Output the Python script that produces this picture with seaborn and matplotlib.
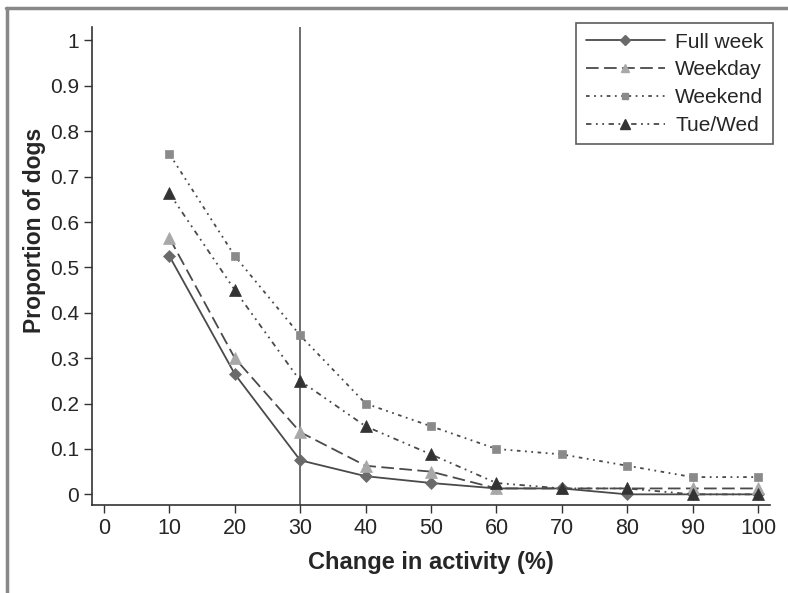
import pandas as pd
import seaborn as sns
import matplotlib.pyplot as plt
from matplotlib.lines import Line2D

# data
change = [10, 20, 30, 40, 50, 60, 70, 80, 90, 100]
full_week = [0.525, 0.265, 0.075, 0.04, 0.025, 0.013, 0.013, 0.0, 0.0, 0.0]
weekday = [0.565, 0.30, 0.137, 0.063, 0.05, 0.013, 0.013, 0.013, 0.013, 0.013]
weekend = [0.75, 0.525, 0.35, 0.2, 0.15, 0.1, 0.088, 0.063, 0.038, 0.038]
tue_wed = [0.663, 0.45, 0.25, 0.15, 0.088, 0.025, 0.013, 0.013, 0.0, 0.0]
series_names = ['Full week', 'Weekday', 'Weekend', 'Tue/Wed']

df = pd.DataFrame({'change': change * 4,
                   'prop': full_week + weekday + weekend + tue_wed,
                   'series': [s for s in series_names for _ in change]})

sns.set_style('ticks')
plt.rcParams['font.family'] = ['Liberation Sans', 'DejaVu Sans']

styles = {
    'Full week': dict(linestyle='-', marker='D', ms=6, mfc='#6a6a6a', mec='#6a6a6a'),
    'Weekday': dict(linestyle=(0, (7, 3)), marker='^', ms=8, mfc='#a8a8a8', mec='#a8a8a8'),
    'Weekend': dict(linestyle=(0, (2, 2.5, 1, 2.5, 1, 2.5)), marker='s', ms=6, mfc='#8a8a8a', mec='#8a8a8a'),
    'Tue/Wed': dict(linestyle=(0, (3, 2.5, 1, 2.5, 1, 2.5)), marker='^', ms=9, mfc='#333333', mec='#333333'),
}

fig = plt.figure(figsize=(7.88, 5.93), dpi=100)
ax = fig.add_axes([0.117, 0.148, 0.86, 0.806])

ax.axvline(30, color='#555555', lw=1.2, zorder=1)

handles = []
for name in series_names:
    st = styles[name]
    sub = df[df['series'] == name]
    sns.lineplot(data=sub, x='change', y='prop', ax=ax, color='#4a4a4a', lw=1.3,
                 linestyle=st['linestyle'], marker=st['marker'], markersize=st['ms'],
                 markerfacecolor=st['mfc'], markeredgecolor=st['mec'],
                 markeredgewidth=0.5, errorbar=None, zorder=3)
    handles.append(Line2D([], [], color='#4a4a4a', lw=1.3, linestyle=st['linestyle'],
                          marker=st['marker'], markersize=st['ms'] * 0.8,
                          markerfacecolor=st['mfc'], markeredgecolor=st['mec']))

ax.set_xlim(-1.8, 101.8)
ax.set_ylim(-0.024, 1.029)
ax.set_xticks(range(0, 101, 10))
ax.set_yticks([i / 10 for i in range(11)])
ax.set_yticklabels(['0'] + [f'{i/10:.1f}' for i in range(1, 10)] + ['1'])
ax.tick_params(axis='both', direction='out', length=6, width=1, color='#333333')
ax.tick_params(axis='x', labelsize=15.5)
ax.tick_params(axis='y', labelsize=15)
sns.despine(ax=ax, top=True, right=True)
for sp in ['left', 'bottom']:
    ax.spines[sp].set_color('#333333')
    ax.spines[sp].set_linewidth(1.2)

ax.set_xlabel('Change in activity (%)', fontsize=17, fontweight='bold', labelpad=8)
ax.set_ylabel('Proportion of dogs', fontsize=16.5, fontweight='bold')
ax.yaxis.set_label_coords(-0.068, 0.575)

leg = ax.legend(handles, series_names, loc='upper right', bbox_to_anchor=(1.02, 1.03),
                fontsize=15, handlelength=3.8, frameon=True, fancybox=False,
                borderpad=0.45, labelspacing=0.42, handletextpad=0.5)
leg.get_frame().set_edgecolor('#333333')
leg.get_frame().set_linewidth(1.2)

# outer frame (top and left)
fig.add_artist(Line2D([0.008, 1.0], [1 - 8 / 593, 1 - 8 / 593], color='#888888', lw=2.5,
                      transform=fig.transFigure))
fig.add_artist(Line2D([0.009, 0.009], [0.0, 1 - 8 / 593], color='#888888', lw=2.5,
                      transform=fig.transFigure))

fig.savefig('out.png', dpi=100)
